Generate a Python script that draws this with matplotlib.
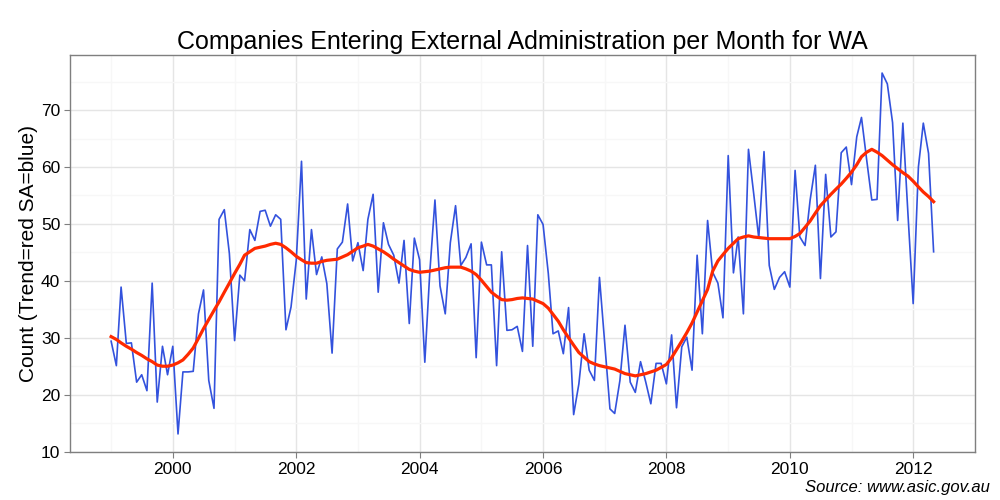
import numpy as np
import pandas as pd
import matplotlib
matplotlib.use("Agg")
from matplotlib import pyplot as plt
import matplotlib.dates as mdates
from matplotlib.ticker import MultipleLocator

# monthly counts, Jan 1999 - May 2012
inicio = "1999-01-01"
sa = [29.4, 25.1, 38.9, 29.0, 29.1, 22.2, 23.5, 20.7, 39.6, 18.7, 28.5, 23.5,
      28.5, 13.1, 24.0, 24.0, 24.1, 34.2, 38.4, 22.5, 17.6, 50.8, 52.5, 44.8,
      29.5, 41.0, 40.0, 49.0, 47.1, 52.2, 52.4, 49.6, 51.6, 50.8, 31.4, 35.4,
      43.6, 61.0, 36.8, 49.0, 41.1, 44.2, 39.5, 27.3, 45.6, 46.8, 53.5, 43.5,
      46.7, 41.8, 50.8, 55.2, 38.0, 50.2, 46.4, 44.5, 39.6, 47.1, 32.5, 47.5,
      43.7, 25.7, 41.3, 54.2, 39.1, 34.2, 46.7, 53.2, 42.7, 44.1, 46.5, 26.5,
      46.8, 42.8, 42.8, 25.1, 45.1, 31.3, 31.4, 32.0, 27.6, 46.2, 28.5, 51.6,
      49.9, 41.3, 30.7, 31.2, 27.2, 35.3, 16.5, 21.9, 30.7, 24.3, 22.5, 40.6,
      29.0, 17.5, 16.7, 22.5, 32.2, 22.2, 20.4, 25.8, 22.2, 18.4, 25.5, 25.5,
      21.9, 30.5, 17.7, 28.4, 30.1, 24.3, 44.5, 30.7, 50.6, 41.5, 39.6, 33.5,
      62.0, 41.4, 47.7, 34.2, 63.1, 55.3, 47.5, 62.7, 42.7, 38.5, 40.6, 41.6,
      38.9, 59.4, 47.7, 46.2, 54.2, 60.3, 40.4, 58.7, 47.7, 48.6, 62.5, 63.5,
      56.9, 65.3, 68.7, 61.2, 54.2, 54.3, 76.5, 74.6, 67.8, 50.6, 67.7, 51.8,
      36.0, 60.0, 67.7, 62.4, 45.1]

trend = [30.2, 29.7, 29.1, 28.5, 28.0, 27.4, 26.9, 26.3, 25.8, 25.2, 25.0, 25.0,
         25.2, 25.6, 26.1, 27.1, 28.2, 29.9, 31.6, 33.2, 34.8, 36.3, 38.0, 39.6,
         41.3, 42.9, 44.5, 45.1, 45.7, 45.9, 46.1, 46.4, 46.6, 46.4, 45.8, 45.1,
         44.3, 43.7, 43.2, 43.1, 43.1, 43.4, 43.6, 43.7, 43.8, 44.2, 44.6, 45.2,
         45.8, 46.1, 46.4, 46.1, 45.6, 45.1, 44.5, 43.8, 43.2, 42.6, 42.0, 41.7,
         41.5, 41.6, 41.7, 41.9, 42.1, 42.3, 42.4, 42.4, 42.4, 42.1, 41.7, 41.1,
         40.1, 39.0, 38.0, 37.3, 36.7, 36.6, 36.7, 36.9, 37.0, 36.9, 36.8, 36.4,
         36.0, 35.2, 34.1, 32.9, 31.4, 30.0, 28.7, 27.4, 26.6, 25.8, 25.4, 25.1,
         24.9, 24.7, 24.5, 24.1, 23.7, 23.5, 23.3, 23.5, 23.7, 24.0, 24.3, 24.8,
         25.3, 26.5, 27.9, 29.4, 30.9, 32.6, 34.5, 36.5, 38.5, 41.7, 43.5, 44.6,
         45.7, 46.6, 47.4, 47.7, 47.9, 47.7, 47.6, 47.5, 47.4, 47.4, 47.4, 47.4,
         47.4, 47.8, 48.3, 49.4, 50.5, 51.9, 53.2, 54.2, 55.2, 56.1, 57.0, 58.0,
         59.1, 60.4, 61.8, 62.6, 63.1, 62.6, 62.0, 61.2, 60.4, 59.7, 59.0, 58.4,
         57.5, 56.5, 55.6, 54.8, 53.9]

fechas = pd.date_range(inicio, periods=len(sa), freq="MS")

plt.rcParams["font.family"] = ["Liberation Sans", "DejaVu Sans"]

fig = plt.figure(figsize=(10, 5), dpi=100)
ax = fig.add_axes([0.07, 0.096, 0.905, 0.794])

ax.plot(fechas, sa, color="#3352dd", linewidth=1.2, zorder=3)
ax.plot(fechas, trend, color="#ff2a00", linewidth=2.3, zorder=4)

# ggplot style 5% expansion on both axes
x0 = mdates.date2num(fechas[0])
x1 = mdates.date2num(fechas[-1])
pad = (x1 - x0) * 0.05
ax.set_xlim(x0 - pad, x1 + pad)
y0 = min(min(sa), min(trend))
y1 = max(max(sa), max(trend))
ypad = (y1 - y0) * 0.05
ax.set_ylim(y0 - ypad, y1 + ypad)

anios_mayor = [mdates.date2num(pd.Timestamp(f"{a}-01-01")) for a in range(2000, 2013, 2)]
anios_menor = [mdates.date2num(pd.Timestamp(f"{a}-01-01")) for a in range(1999, 2014, 2)]
ax.set_xticks(anios_mayor)
ax.set_xticklabels([str(a) for a in range(2000, 2013, 2)])
ax.set_xticks(anios_menor, minor=True)
ax.yaxis.set_major_locator(MultipleLocator(10))
ax.yaxis.set_minor_locator(MultipleLocator(5))
ax.set_yticks(range(10, 80, 10))

ax.grid(True, which="major", color="#e5e5e5", linewidth=1.0, zorder=0)
ax.grid(True, which="minor", color="#f7f7f7", linewidth=1.0, zorder=0)
ax.set_axisbelow(True)
for s in ax.spines.values():
    s.set_color("#7f7f7f")
    s.set_linewidth(1.0)
ax.tick_params(which="major", length=4, color="#7f7f7f", labelsize=12.5, labelcolor="black", pad=3)
ax.tick_params(which="minor", length=0)

ax.set_title("Companies Entering External Administration per Month for WA", fontsize=18, pad=4)
ax.set_ylabel("Count (Trend=red SA=blue)", fontsize=15, labelpad=2)
fig.text(0.99, 0.025, "Source: www.asic.gov.au", ha="right", va="center", fontsize=12, style="italic")

fig.savefig("out.png", dpi=100)
